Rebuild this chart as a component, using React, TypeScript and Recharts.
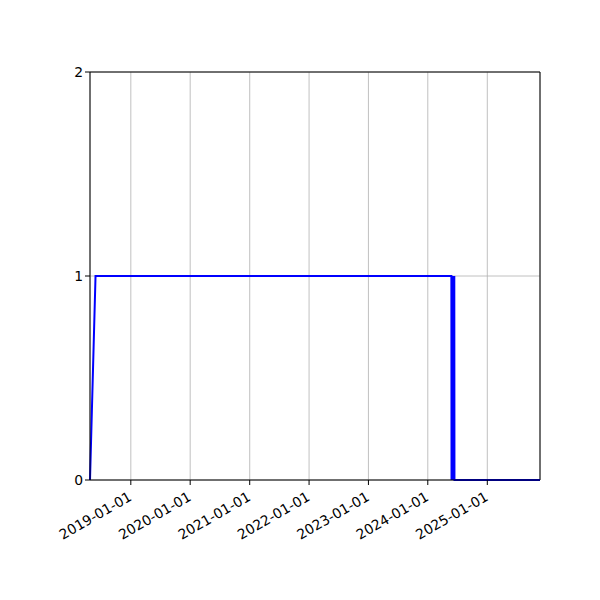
import { LineChart, Line, XAxis, YAxis, CartesianGrid, ReferenceLine } from "recharts"

// dates and state values
const dates = [
  "2018-04-25",
  "2018-05-29",
  "2024-05-25",
  "2024-05-26",
  "2024-05-31",
  "2024-06-01",
  "2024-06-06",
  "2024-06-07",
  "2024-06-12",
  "2024-06-13",
  "2025-11-21",
]
const values = [0, 1, 1, 0, 1, 0, 1, 0, 1, 0, 0]

const tickDates = ["2019-01-01", "2020-01-01", "2021-01-01", "2022-01-01", "2023-01-01", "2024-01-01", "2025-01-01"]
const yTicks = [0, 1, 2]

const toMs = (s: string) => {
  const [y, m, d] = s.split("-").map(Number)
  return Date.UTC(y, m - 1, d)
}

const fmt = (ms: number) => new Date(ms).toISOString().slice(0, 10)

const data = dates.map((d, i) => ({ t: toMs(d), v: values[i] }))
const xStart = toMs(dates[0])
const xEnd = toMs(dates[dates.length - 1])

const font = { fontFamily: "DejaVu Sans", fontSize: 13.9, fill: "#000" }

export default function App() {
  return (
    <div style={{ position: "fixed", left: 0, top: 0, width: 600, height: 600, background: "#fff" }}>
      <LineChart width={600} height={600} data={data} margin={{ top: 72, right: 60, bottom: 0, left: 30 }}>
        <CartesianGrid stroke="#b0b0b0" strokeWidth={0.8} horizontal vertical />
        <XAxis
          dataKey="t"
          type="number"
          scale="time"
          domain={[xStart, xEnd]}
          ticks={tickDates.map(toMs)}
          tickFormatter={fmt}
          stroke="#000"
          tickSize={5}
          tickLine={{ stroke: "#000" }}
          axisLine={{ stroke: "#000" }}
          angle={-30}
          textAnchor="end"
          tick={{ ...font }}
          dx={-3}
          dy={4}
          interval={0}
          height={120}
        />
        <YAxis
          type="number"
          domain={[0, 2]}
          ticks={yTicks}
          stroke="#000"
          tickSize={5}
          tick={{ ...font }}
          width={60}
          interval={0}
        />
        <ReferenceLine y={2} stroke="#000" strokeWidth={1} />
        <ReferenceLine x={xEnd} stroke="#000" strokeWidth={1} />
        <Line
          type="linear"
          dataKey="v"
          stroke="#0000ff"
          strokeWidth={2}
          dot={false}
          isAnimationActive={false}
        />
      </LineChart>
    </div>
  )
}
